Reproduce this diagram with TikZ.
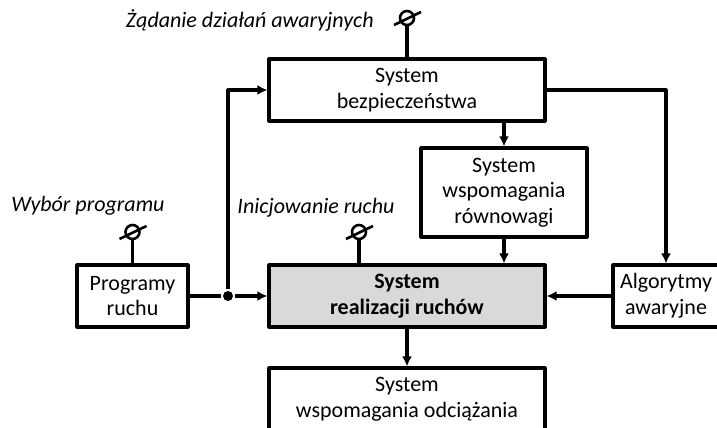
\documentclass[tikz,border=0pt]{standalone}
\usepackage{fontspec}
\setmainfont{Carlito}
\usetikzlibrary{arrows.meta,calc}
\definecolor{mainfill}{RGB}{217,217,217}
\begin{document}
\begin{tikzpicture}[x=0.5pt, y=-0.5pt, font=\fontsize{11}{12.8}\selectfont, line join=round, line width=1.6pt, >={Latex[length=5pt,width=5pt]},
	box/.style={draw, rectangle, align=center, inner sep=0pt},
	knob/.style={draw, circle, minimum size=7pt, inner sep=0pt, line width=1.3pt},
	dot/.style={fill, circle, minimum size=5pt, inner sep=0pt},
	lbl/.style={font=\fontsize{11}{12.8}\selectfont\itshape}]
	\def\xmin{0} \def\xmax{717}
	\def\ymin{0} \def\ymax{428}
	\useasboundingbox (\xmin,\ymin) rectangle (\xmax,\ymax);
	\clip (\xmin,\ymin) rectangle (\xmax,\ymax);
	% bloki
	\node[box, minimum width=138pt, minimum height=31pt] (safe) at (407,90) {System\\bezpieczeństwa};
	\node[box, minimum width=83pt, minimum height=44.5pt] (bal) at (504,192.5) {System\\wspomagania\\równowagi};
	\node[box, minimum width=55.5pt, minimum height=31pt] (prog) at (132.5,296) {Programy\\ruchu};
	\node[box, fill=mainfill, font=\fontsize{11}{12.8}\selectfont\bfseries, minimum width=138pt, minimum height=31pt] (main) at (407,296) {System\\realizacji ruchów};
	\node[box, minimum width=53pt, minimum height=31pt] (alg) at (666,296) {Algorytmy\\awaryjne};
	\node[box, minimum width=138pt, minimum height=31pt] (unl) at (407,399) {System\\wspomagania odciążania};
	% wejscia
	\node[knob] (k1) at (407,18) {};
	\node[knob] (k2) at (132.5,232) {};
	\node[knob] (k3) at (359,232) {};
	\node[lbl, anchor=east] (l1) at (382,20) {Żądanie działań awaryjnych};
	\node[lbl] (l2) at (88,206) {Wybór programu};
	\node[lbl] (l3) at (316,208) {Inicjowanie ruchu};
	\foreach \k/\b in {k1/safe, k2/prog, k3/main}{
		\draw (\k.south) -- (\k.south |- \b.north);
		\draw[line width=1.3pt] ($(\k)+(-13,7)$) -- ($(\k)+(14,-6)$);
	}
	% polaczenia
	\node[dot] (j) at (228,296) {};
	\draw (prog.east) -- (j);
	\draw[->] (j) -- (main.west);
	\draw[->] (j) |- (safe.west);
	\draw[->] (bal.north |- safe.south) -- (bal.north);
	\draw[->] (bal.south) -- (bal.south |- main.north);
	\draw[->] (safe.east) -| (alg.north);
	\draw[->] (alg.west) -- (main.east);
	\draw[->] (main.south) -- (unl.north);
\end{tikzpicture}
\end{document}
